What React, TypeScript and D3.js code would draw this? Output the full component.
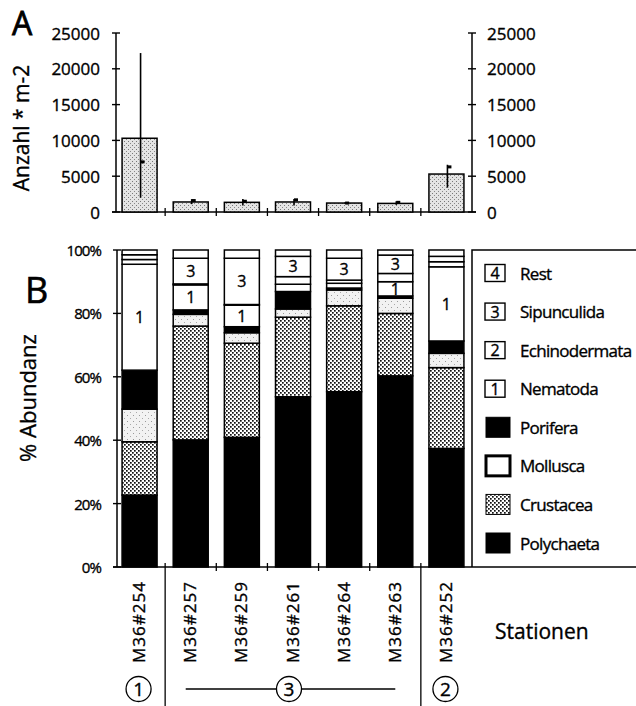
import React from 'react';
import * as d3 from 'd3';

const stations = ['M36#254', 'M36#257', 'M36#259', 'M36#261', 'M36#264', 'M36#263', 'M36#252'];
const density = [10300, 1400, 1350, 1400, 1250, 1200, 5300];
const densityLow = [2000, 1100, 900, 900, 1150, 1000, 3400];
const densityHigh = [22200, 1800, 1800, 1800, 1350, 1500, 6600];
const densityMark = [7000, 1600, 1500, 1700, 1250, 1350, 6300];
const densityTicks = [0, 5000, 10000, 15000, 20000, 25000];

const taxa = ['Polychaeta', 'Crustacea', 'Mollusca', 'Porifera', 'Nematoda', 'Echinodermata', 'Sipunculida', 'Rest'];
const polychaeta = [22.7, 40.1, 40.9, 53.7, 55.3, 60.3, 37.4];
const crustacea = [16.8, 35.9, 29.7, 25.1, 27.1, 19.7, 25.5];
const mollusca = [10.3, 3.7, 3.3, 2.6, 5.0, 4.8, 4.5];
const porifera = [12.3, 1.4, 1.9, 5.5, 0.6, 0.7, 3.9];
const nematoda = [33.4, 7.9, 6.8, 2.3, 1.5, 4.5, 23.4];
const echinodermata = [1.5, 0.3, 0.2, 2.4, 1.0, 2.6, 1.6];
const sipunculida = [1.5, 8.1, 14.6, 6.4, 6.9, 5.8, 1.7];
const rest = [1.5, 2.6, 2.6, 2.0, 2.6, 1.6, 2.0];
const pctTicks = [0, 20, 40, 60, 80, 100];

const legendOrder = ['Rest', 'Sipunculida', 'Echinodermata', 'Nematoda', 'Porifera', 'Mollusca', 'Crustacea', 'Polychaeta'];
const taxonNumber: Record<string, string> = { Nematoda: '1', Echinodermata: '2', Sipunculida: '3', Rest: '4' };

const groups = [
  { label: '1', from: 0, to: 0 },
  { label: '3', from: 1, to: 5 },
  { label: '2', from: 6, to: 6 },
];

const FONT = "'Open Sans', 'DejaVu Sans', sans-serif";
const TS = { stroke: '#000', strokeWidth: 0.35 };

export default function App() {
  const W = 636, H = 706;
  const xS = d3.scaleBand<string>().domain(stations).range([114, 472]);
  const bw = xS.bandwidth();
  const cx = (s: string) => (xS(s) as number) + bw / 2;
  const barW = 35;

  const yA = d3.scaleLinear().domain([0, 25000]).range([212, 33]);
  const yB = d3.scaleLinear().domain([0, 100]).range([567, 250]);

  const seriesArrays = [polychaeta, crustacea, mollusca, porifera, nematoda, echinodermata, sipunculida, rest];
  const rows = stations.map((s, i) => {
    const r: any = { station: s };
    taxa.forEach((t, k) => (r[t] = seriesArrays[k][i]));
    return r;
  });
  const stack = d3.stack<any>().keys(taxa)(rows);

  const fillFor = (t: string) => {
    if (t === 'Polychaeta' || t === 'Porifera') return '#000';
    if (t === 'Crustacea') return 'url(#crust)';
    if (t === 'Mollusca') return 'url(#moll)';
    return '#fff';
  };

  const boundaries = stations.slice(1).map((s) => xS(s) as number);
  const legendY = d3.scalePoint<string>().domain(legendOrder).range([273, 543]);

  return (
    <svg width={W} height={H} style={{ position: 'absolute', left: 0, top: 0, background: '#fff' }} fontFamily={FONT}>
      <defs>
        <pattern id="crust" width="4" height="4" patternUnits="userSpaceOnUse">
          <rect width="4" height="4" fill="#fff" />
          <rect x="0" y="0" width="1.7" height="1.7" fill="#111" />
          <rect x="2" y="2" width="1.7" height="1.7" fill="#111" />
        </pattern>
        <pattern id="moll" width="6" height="6" patternUnits="userSpaceOnUse">
          <rect width="6" height="6" fill="#f2f2f2" />
          <rect x="1" y="1" width="1" height="1" fill="#999" />
          <rect x="4" y="4" width="1" height="1" fill="#aaa" />
        </pattern>
        <pattern id="stip" width="4" height="4" patternUnits="userSpaceOnUse">
          <rect width="4" height="4" fill="#e4e4e4" />
          <rect x="0" y="1" width="1" height="1" fill="#777" />
          <rect x="2" y="3" width="1" height="1" fill="#888" />
        </pattern>
      </defs>

      {/* Panel A */}
      <text x={12} y={35} fontSize={32} {...TS} strokeWidth={0.8}>A</text>
      <text transform={`translate(29,128) rotate(-90)`} textAnchor="middle" fontSize={21} {...TS}>Anzahl * m-2</text>
      <line x1={116} x2={116} y1={yA(25000)} y2={yA(0)} stroke="#000" strokeWidth={1.5} />
      <line x1={472} x2={472} y1={yA(25000)} y2={yA(0)} stroke="#000" strokeWidth={1.5} />
      <line x1={112} x2={476} y1={yA(0)} y2={yA(0)} stroke="#000" strokeWidth={1.5} />
      {densityTicks.map((t) => (
        <g key={'ta' + t}>
          <line x1={112} x2={120} y1={yA(t)} y2={yA(t)} stroke="#000" strokeWidth={1.4} />
          <line x1={468} x2={476} y1={yA(t)} y2={yA(t)} stroke="#000" strokeWidth={1.4} />
          <text x={100} y={yA(t)} textAnchor="end" dominantBaseline="central" fontSize={17} {...TS}>{t}</text>
          <text x={487} y={yA(t)} textAnchor="start" dominantBaseline="central" fontSize={17} {...TS}>{t}</text>
        </g>
      ))}
      {boundaries.map((b, i) => (
        <line key={'xa' + i} x1={b} x2={b} y1={yA(0) - 4} y2={yA(0) + 4} stroke="#000" strokeWidth={1.3} />
      ))}
      {stations.map((s, i) => (
        <g key={'ba' + s}>
          <rect x={cx(s) - barW / 2} y={yA(density[i])} width={barW} height={yA(0) - yA(density[i])}
            fill="url(#stip)" stroke="#000" strokeWidth={1.5} />
          <line x1={cx(s) + 1} x2={cx(s) + 1} y1={yA(densityLow[i])} y2={yA(densityHigh[i])} stroke="#000" strokeWidth={1.6} />
          <rect x={cx(s) + 1} y={yA(densityMark[i]) - 1.5} width={4} height={3} fill="#000" />
        </g>
      ))}

      {/* Panel B */}
      <text x={25} y={303} fontSize={36} {...TS} strokeWidth={0.6}>B</text>
      <text transform={`translate(36,398) rotate(-90)`} textAnchor="middle" fontSize={22} {...TS}>% Abundanz</text>
      <line x1={117} x2={117} y1={yB(100)} y2={yB(0)} stroke="#000" strokeWidth={1.5} />
      <line x1={113} x2={636} y1={yB(0)} y2={yB(0)} stroke="#000" strokeWidth={1.5} />
      {pctTicks.map((t) => (
        <g key={'tb' + t}>
          <line x1={113} x2={121} y1={yB(t)} y2={yB(t)} stroke="#000" strokeWidth={1.4} />
          <text x={101} y={yB(t)} textAnchor="end" dominantBaseline="central" fontSize={15} letterSpacing={-0.9} {...TS}>{t}%</text>
        </g>
      ))}
      {boundaries.map((b, i) => {
        const long = i === 0 || i === boundaries.length - 1;
        return <line key={'xb' + i} x1={b} x2={b} y1={yB(0) - 4} y2={long ? H : yB(0) + 4} stroke="#000" strokeWidth={1.3} />;
      })}
      {stack.map((layer) => (
        <g key={layer.key}>
          {layer.map((d, i) => {
            const s = stations[i];
            const y0 = yB(d[0]);
            const y1 = yB(d[1]);
            const h = y0 - y1;
            const num = taxonNumber[layer.key];
            const showNum = num && (num === '1' || num === '3') && d[1] - d[0] >= 4;
            return (
              <g key={s}>
                <rect x={cx(s) - barW / 2} y={y1} width={barW} height={h} fill={fillFor(layer.key)} stroke="#000" strokeWidth={1.5} />
                {showNum && (
                  <text x={cx(s)} y={(y0 + y1) / 2} textAnchor="middle" dominantBaseline="central" fontSize={16} {...TS}>{num}</text>
                )}
              </g>
            );
          })}
        </g>
      ))}

      {/* Legend */}
      <path d={`M636,250H472V${yB(0)}`} fill="none" stroke="#000" strokeWidth={1.5} />
      {legendOrder.map((t) => {
        const y = legendY(t) as number;
        const num = taxonNumber[t];
        return (
          <g key={'lg' + t}>
            {num ? (
              <g>
                <rect x={485} y={y - 8.5} width={20} height={17} fill="#fff" stroke="#000" strokeWidth={1.4} />
                <text x={495} y={y} textAnchor="middle" dominantBaseline="central" fontSize={16} {...TS}>{num}</text>
              </g>
            ) : (
              <rect x={486} y={y - 10} width={24} height={20} fill={t === 'Mollusca' ? '#fff' : fillFor(t)}
                stroke="#000" strokeWidth={t === 'Mollusca' ? 3 : 1} />
            )}
            <text x={520} y={y} dominantBaseline="central" fontSize={17} letterSpacing={-0.7} {...TS}>{t}</text>
          </g>
        );
      })}

      {/* Station labels */}
      {stations.map((s) => (
        <text key={'sl' + s} transform={`translate(${cx(s) - 1},663) rotate(-90)`} textAnchor="start" dominantBaseline="central"
          fontSize={17} letterSpacing={1} {...TS}>{s}</text>
      ))}
      <text x={495} y={631} dominantBaseline="central" fontSize={21} {...TS}>Stationen</text>

      {/* Groups */}
      {groups.map((g) => {
        const a = cx(stations[g.from]);
        const b = cx(stations[g.to]);
        const c = (a + b) / 2 - 4;
        const yC = 689;
        const single = g.from === g.to;
        const ccx = single ? a - 1 : c;
        return (
          <g key={'gr' + g.label}>
            {!single && (
              <g>
                <line x1={a - 5} x2={c - 12} y1={yC} y2={yC} stroke="#000" strokeWidth={1.3} />
                <line x1={c + 12} x2={b} y1={yC} y2={yC} stroke="#000" strokeWidth={1.3} />
              </g>
            )}
            <circle cx={ccx} cy={yC} r={12.5} fill="#fff" stroke="#000" strokeWidth={1.3} />
            <text x={ccx} y={yC} textAnchor="middle" dominantBaseline="central" fontSize={19} {...TS}>{g.label}</text>
          </g>
        );
      })}
    </svg>
  );
}
